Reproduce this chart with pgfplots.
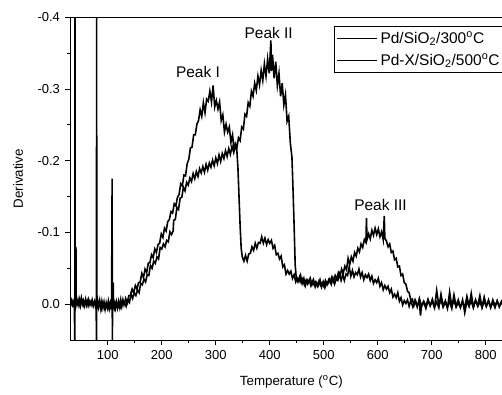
\documentclass[border=0pt]{standalone}
\usepackage{fontspec}
\setmainfont{Liberation Sans}
\usepackage{pgfplots}
\pgfplotsset{compat=1.18}
\begin{document}
\begin{tikzpicture}
\begin{axis}[
  scale only axis, width=332.1pt, height=242pt,
  xmin=30, xmax=850, ymin=-0.4, ymax=0.05, y dir=reverse,
  xtick={100,200,...,800}, ytick={-0.4,-0.3,-0.2,-0.1,0.0},
  minor x tick num=1, minor y tick num=1,
  xtick pos=left, ytick pos=left, tick align=outside,
  major tick length=4pt, minor tick length=2.5pt,
  axis line style={line width=0.75pt}, every tick/.style={black, line width=0.75pt},
  /pgf/number format/assume math mode=true,
  yticklabel style={/pgf/number format/.cd, fixed, fixed zerofill, precision=1},
  ticklabel style={font=\fontsize{9.75}{11}\selectfont},
  label style={font=\fontsize{12.2}{14}\selectfont},
  xlabel={Temperature (\textsuperscript{o}C)},
  ylabel={Derivative},
  every axis x label/.style={at={(axis description cs:0.5,-0.130)}, anchor=center},
  every axis y label/.style={at={(axis description cs:-0.1174,0.5)}, rotate=90, anchor=center},
  legend style={at={(axis description cs:0.596,0.973)}, anchor=north west, draw=black, line width=0.75pt,
    font=\fontsize{11.6}{13}\selectfont, row sep=2pt, inner sep=2pt},
  legend cell align=left,
  legend image code/.code={\draw[#1, line width=0.6pt] (0cm,0cm) -- (30pt,0cm);},
]
\addplot[black, line width=1.2pt] coordinates {
(31,-0.002)(33,-0.006)(35,0.001)(37,-0.004)(38,0.000)(39,0.06)(39.3,-0.45)(39.6,0.0)(41,-0.08)(41.4,0.0)(43,-0.006)(45,0.001)(47,-0.008)(49,-0.002)(51,-0.009)(53,0.000)(55,-0.005)(57,0.002)(59,-0.007)(61,-0.001)(63,-0.005)(65,0.002)(67,-0.004)(69,0.001)(71,-0.006)(73,0.001)(75,-0.003)(77,0.003)(78.5,-0.002)(79,0.06)(79.3,-0.45)(79.6,0.004)(81,-0.006)(83,0.004)(85,-0.005)(87,0.006)(89,-0.004)(91,0.005)(93,-0.003)(95,0.007)(97,-0.002)(99,0.005)(101,-0.004)(103,0.006)(105,-0.002)(107,0.004)(108,-0.175)(108.4,0.06)(108.8,0.003)(110,-0.03)(110.5,0.005)(112,-0.002)(114,0.006)(116,-0.003)(118,0.005)(120,-0.004)(122,0.004)(124,-0.006)(126,0.003)(128,-0.006)
(130,0.001)(133,-0.008)(136,-0.002)(139,-0.012)(142,-0.012)(145,-0.021)(148,-0.016)(151,-0.026)(154,-0.021)(157,-0.030)(160,-0.031)(163,-0.043)(166,-0.037)(169,-0.049)(172,-0.044)(175,-0.057)(178,-0.058)(181,-0.069)(184,-0.065)(187,-0.077)(190,-0.072)(193,-0.083)(196,-0.085)(199,-0.098)(202,-0.093)(205,-0.106)(208,-0.102)(211,-0.115)(214,-0.118)(217,-0.129)(220,-0.127)(223,-0.140)(226,-0.137)(229,-0.149)(232,-0.153)(235,-0.168)(238,-0.165)(241,-0.180)(244,-0.179)(247,-0.196)(250,-0.202)(253,-0.218)(256,-0.219)(259,-0.236)(262,-0.236)(265,-0.251)(268,-0.256)(271,-0.271)
(274,-0.262)(277,-0.281)(280,-0.267)(283,-0.286)(286,-0.283)(289,-0.297)(292,-0.282)(295,-0.305)(298,-0.275)(301,-0.284)(304,-0.272)(307,-0.282)(310,-0.256)(313,-0.264)(316,-0.240)(319,-0.251)(322,-0.240)(325,-0.247)(328,-0.226)(331,-0.236)(334,-0.214)(337,-0.222)(339,-0.214)(341,-0.19)(343,-0.15)(345,-0.11)(347,-0.078)
(349,-0.066)(352,-0.060)(355,-0.068)(358,-0.060)(361,-0.070)(364,-0.071)(367,-0.080)(370,-0.075)(373,-0.085)(376,-0.078)(379,-0.086)(382,-0.085)(385,-0.094)(388,-0.085)(391,-0.092)(394,-0.083)(397,-0.090)(400,-0.085)(403,-0.089)(406,-0.078)(409,-0.082)(412,-0.069)(415,-0.071)(418,-0.063)(421,-0.067)(424,-0.052)(427,-0.055)(430,-0.042)(433,-0.047)(436,-0.042)(439,-0.046)(442,-0.036)(445,-0.041)(448,-0.031)(451,-0.036)(454,-0.032)(457,-0.040)(460,-0.029)(463,-0.036)(466,-0.026)(469,-0.034)(472,-0.030)(475,-0.036)(478,-0.027)(481,-0.034)(484,-0.024)(487,-0.030)(490,-0.026)(493,-0.034)(496,-0.024)(499,-0.031)(502,-0.023)(505,-0.031)(508,-0.029)(511,-0.035)(514,-0.028)(517,-0.036)(520,-0.028)(523,-0.035)(526,-0.033)(529,-0.042)(532,-0.033)(535,-0.041)(538,-0.033)(541,-0.042)(544,-0.040)(547,-0.052)(550,-0.039)(553,-0.047)(556,-0.038)(559,-0.044)(562,-0.041)(565,-0.049)(568,-0.038)(571,-0.044)(574,-0.034)(577,-0.041)(580,-0.037)(583,-0.042)(586,-0.033)(589,-0.039)(592,-0.029)(595,-0.034)(598,-0.030)(601,-0.036)(604,-0.025)(607,-0.030)(610,-0.020)(613,-0.026)(616,-0.021)(619,-0.025)(622,-0.016)(625,-0.021)(628,-0.010)(631,-0.014)(634,-0.009)(637,-0.016)(640,-0.004)(643,-0.009)(646,0.001)(649,-0.005)(652,-0.001)(655,-0.006)(658,0.003)
(661,-0.005)(665,0.004)(669,-0.006)(673,0.002)(677,-0.003)(679,0.016)(681,0.002)(685,-0.004)(689,0.003)(693,-0.007)(697,0.002)(701,-0.004)(705,0.005)(709,-0.019)(713,0.002)(717,-0.006)(721,0.004)(725,-0.003)(729,0.006)(733,-0.017)(737,0.003)(741,-0.005)(745,0.004)(749,-0.002)(753,0.005)(757,-0.006)(761,0.012)(765,-0.004)(769,0.003)(773,-0.015)(777,0.004)(781,-0.005)(785,0.002)(789,-0.012)(793,0.005)(797,-0.004)(801,0.003)(805,-0.006)(809,0.004)(813,-0.003)(817,0.005)(821,-0.005)(825,0.003)(829,-0.004)(833,0.002)(837,-0.003)(845,0.002)(850,-0.002)
};
\addlegendentry{Pd/SiO\textsubscript{2}/300\textsuperscript{o}C}
\addplot[black, line width=1.2pt] coordinates {
(31,0.003)(34,-0.004)(37,0.002)(40,-0.005)(43,0.001)(46,-0.003)(49,0.004)(52,-0.006)(55,0.002)(58,-0.003)(61,0.003)(64,-0.007)(67,0.000)(70,-0.004)(73,0.003)(76,-0.005)(79,0.002)(82,0.006)(85,-0.003)(88,0.007)(91,-0.002)(94,0.006)(97,0.000)(100,0.007)(103,-0.001)(106,0.006)(109,0.001)(112,0.007)(115,-0.002)(118,0.006)(121,0.000)(124,0.005)(127,-0.002)
(131,-0.003)(134,0.003)(137,-0.005)(140,-0.002)(143,-0.014)(146,-0.008)(149,-0.016)(152,-0.012)(155,-0.020)(158,-0.016)(161,-0.029)(164,-0.027)(167,-0.035)(170,-0.031)(173,-0.041)(176,-0.040)(179,-0.054)(182,-0.050)(185,-0.060)(188,-0.057)(191,-0.066)(194,-0.063)(197,-0.079)(200,-0.077)(203,-0.084)(206,-0.080)(209,-0.089)(212,-0.087)(215,-0.101)(218,-0.097)(221,-0.102)(222,-0.117)
(225,-0.118)(228,-0.135)(231,-0.132)(234,-0.148)(237,-0.149)(240,-0.163)(243,-0.158)(246,-0.170)(249,-0.166)(252,-0.176)(255,-0.171)(258,-0.182)(261,-0.175)(264,-0.185)(267,-0.178)(270,-0.189)(273,-0.183)(276,-0.192)(279,-0.184)(282,-0.195)(285,-0.187)(288,-0.197)(291,-0.191)(294,-0.201)(297,-0.193)(300,-0.204)(303,-0.196)(306,-0.208)(309,-0.199)(312,-0.210)(315,-0.203)(318,-0.214)(321,-0.206)(324,-0.217)(327,-0.209)(330,-0.220)(333,-0.212)(336,-0.224)(339,-0.218)(342,-0.232)(345,-0.228)(348,-0.247)(351,-0.244)(354,-0.265)(357,-0.262)(360,-0.281)(363,-0.276)(366,-0.297)(369,-0.290)(372,-0.308)(375,-0.298)(378,-0.318)(381,-0.306)(384,-0.326)(387,-0.312)(390,-0.335)(393,-0.318)(396,-0.342)(399,-0.322)(402,-0.368)(403,-0.325)(405,-0.348)(408,-0.315)(411,-0.338)(414,-0.305)(417,-0.322)(420,-0.290)(423,-0.308)(426,-0.278)(429,-0.292)(432,-0.255)(435,-0.262)(438,-0.225)(441,-0.205)(443,-0.160)(445,-0.110)(447,-0.055)(449,-0.036)
(452,-0.031)(455,-0.038)(458,-0.030)(461,-0.035)(464,-0.027)(467,-0.033)(470,-0.028)(473,-0.034)(476,-0.026)(479,-0.032)(482,-0.027)(485,-0.031)(488,-0.025)(491,-0.032)(494,-0.026)(497,-0.030)(500,-0.025)(503,-0.033)(506,-0.027)(509,-0.034)(512,-0.030)(515,-0.038)(518,-0.032)(521,-0.040)(524,-0.035)(527,-0.044)(530,-0.039)(533,-0.049)(536,-0.043)(539,-0.053)(542,-0.048)(545,-0.064)(548,-0.055)(551,-0.066)(554,-0.060)(557,-0.072)(560,-0.067)(563,-0.078)(566,-0.073)(569,-0.084)(572,-0.079)(575,-0.090)(578,-0.086)(579,-0.120)(580,-0.090)(583,-0.098)(586,-0.091)(589,-0.103)(592,-0.096)(595,-0.106)(598,-0.097)(601,-0.105)(604,-0.094)(607,-0.101)(610,-0.090)(612,-0.123)(613,-0.092)(616,-0.088)(619,-0.080)(622,-0.084)(625,-0.072)(628,-0.074)(631,-0.062)(634,-0.064)(637,-0.052)(640,-0.053)(643,-0.040)(646,-0.042)(649,-0.030)(652,-0.028)(655,-0.018)(658,-0.016)(661,-0.006)(664,-0.007)(667,0.002)(670,-0.004)
(673,0.004)(677,-0.008)(681,0.003)(685,-0.003)(689,0.006)(693,-0.005)(697,0.002)(701,-0.007)(705,0.004)(709,-0.003)(713,0.005)(717,-0.014)(721,0.003)(725,-0.005)(729,0.004)(733,-0.004)(737,0.006)(741,-0.013)(745,0.003)(749,-0.006)(753,0.004)(757,-0.003)(761,0.005)(765,-0.011)(769,0.002)(773,-0.004)(777,0.005)(781,-0.006)(785,0.003)(789,-0.003)(793,0.004)(797,-0.010)(801,0.003)(805,-0.004)(809,0.005)(813,-0.006)(817,0.002)(821,-0.004)(825,0.004)(829,-0.003)(833,0.003)(837,-0.005)(845,0.003)(850,-0.001)
};
\addlegendentry{Pd-X/SiO\textsubscript{2}/500\textsuperscript{o}C}
\node[font=\fontsize{11.6}{13}\selectfont] at (axis cs:267,-0.324) {Peak I};
\node[font=\fontsize{11.6}{13}\selectfont] at (axis cs:398,-0.378) {Peak II};
\node[font=\fontsize{11.6}{13}\selectfont] at (axis cs:605,-0.138) {Peak III};
\end{axis}
\pgfresetboundingbox
\path (-52.5pt,-40.5pt) rectangle (324pt,255pt);
\end{tikzpicture}
\end{document}
